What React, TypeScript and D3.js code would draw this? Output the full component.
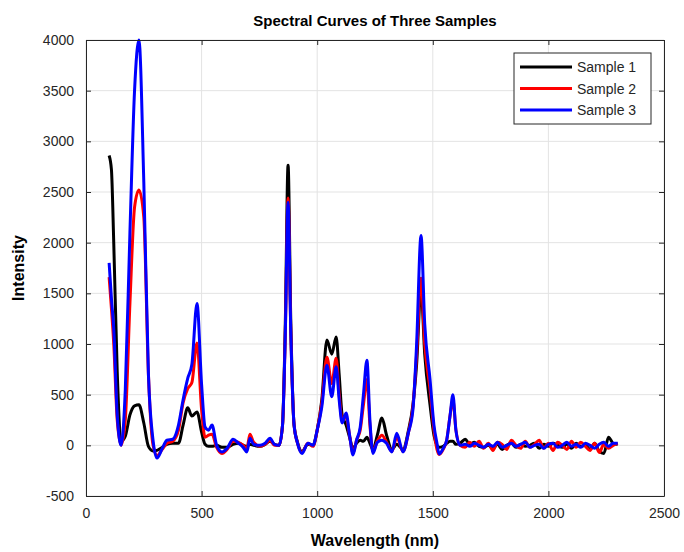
import React, { useEffect, useRef } from "react";
import * as d3 from "d3";

// wavelength grid (nm) shared by the three samples
const wavelength = [
  100, 110, 120, 135, 152, 170, 190, 210, 229, 250, 270, 290, 307, 330, 350, 375, 400, 420, 440, 458,
  480, 500, 515, 530, 545, 565, 588, 610, 636, 660, 680, 696, 709, 725, 753, 775, 796, 815, 835, 850,
  862, 874, 886, 900, 915, 934, 960, 982, 1000, 1020, 1042, 1063, 1082, 1095, 1108, 1125, 1140, 1155, 1170, 1186,
  1200, 1215, 1228, 1241, 1260, 1280, 1300, 1323, 1344, 1371, 1395, 1414, 1430, 1449, 1465, 1488, 1505, 1518, 1527, 1545,
  1560, 1575, 1587, 1600, 1618,
  1640, 1660, 1680, 1700, 1720, 1740, 1760, 1780, 1800, 1820, 1840, 1860, 1880, 1900, 1920, 1940, 1960,
  1980, 2000, 2020, 2040, 2060, 2080, 2100, 2120, 2140, 2160, 2180, 2200, 2220, 2240, 2260, 2280, 2300,
];

const sample1 = [
  2860, 2720, 2000, 730, 40, 90, 300, 390, 400, 220, -10, -55, -50, -20, 10, 20, 20, 200, 370, 290,
  330, 130, 10, -10, -10, 0, -20, -20, 10, 20, 0, -10, 10, 0, -10, 10, 40, 10, 0, 200,
  1200, 2765, 1200, 200, 30, -60, 10, 0, 150, 450, 1040, 900, 1070, 700, 300, 200, 80, -30, 20, 50,
  40, 80, 20, -40, 100, 270, 100, -40, 10, -40, 150, 400, 800, 1540, 900, 400, 100, 0, -20, -10,
  20, 40, 40, 10, 20,
  60, 10, 30, -10, -20, 0, -30, 10, -40, 0, 20, -20, 10, -10, 0, 20, -30,
  10, -10, 20, 0, -20, 10, -30, 20, -10, 0, -40, 20, -60, -80, 80, 20, 10,
];

const sample2 = [
  1660, 1350, 1000, 250, 0, 250, 1400, 2350, 2520, 2250, 700, 0, -100, -40, 20, 40, 150, 420, 560, 620,
  1010, 350, 80, 100, 110, -20, -80, -40, 40, 30, 0, -30, 110, 30, -10, 10, 50, 0, 0, 200,
  1100, 2440, 1100, 200, 20, -70, 20, -10, 150, 420, 870, 610, 860, 500, 250, 280, 100, -80, 50, 150,
  400, 650, 200, -60, 40, 100, 30, -60, 80, -60, 130, 380, 900, 1650, 1000, 550, 150, -40, -90, -40,
  50, 300, 450, 150, 0,
  -20, 30, -10, 40, -30, 20, -50, 30, 10, -40, 50, 0, -30, 40, -20, 10, 50,
  -30, 20, -50, 30, 0, -40, 40, -20, 30, -10, -50, 20, -70, 10, -30, 0, 20,
];

const sample3 = [
  1800, 1450, 1150, 300, 0, 550, 2100, 3500, 4000, 2600, 700, 50, -125, -30, 50, 60, 200, 450, 660, 800,
  1400, 600, 180, 150, 200, 0, -65, -30, 60, 20, -20, -65, 70, 10, 0, 20, 70, 10, 0, 200,
  1100, 2400, 1100, 200, 20, -80, 20, 0, 150, 380, 790, 480, 775, 450, 220, 320, 100, -95, 50, 180,
  500, 840, 250, -80, 30, 50, 20, -65, 120, -65, 130, 350, 1000, 2070, 1200, 650, 200, 20, -85, -30,
  50, 300, 500, 150, 0,
  10, -10, 20, 0, -20, 10, -10, 30, -20, 0, 20, -10, 10, 30, -20, 0, 10,
  -30, 10, 20, -20, 0, 30, -10, 10, -20, 20, 0, -30, 10, 30, -10, 20, 20,
];

const seriesNames = ["Sample 1", "Sample 2", "Sample 3"];
const seriesColors = ["#000000", "#ff0000", "#0000ff"];
const xTicks = [0, 500, 1000, 1500, 2000, 2500];
const yTicks = [-500, 0, 500, 1000, 1500, 2000, 2500, 3000, 3500, 4000];

const W = 684;
const H = 552;
const margin = { top: 40, right: 20, bottom: 56, left: 86 };
const axisColor = "#262626";
const font = "Liberation Sans, Arial, sans-serif";

const App = () => {
  const ref = useRef<SVGSVGElement>(null);

  useEffect(() => {
    const svg = d3.select(ref.current);
    svg.selectAll("*").remove();

    const x = d3.scaleLinear().domain([0, 2500]).range([margin.left, W - margin.right]);
    const y = d3.scaleLinear().domain([-500, 4000]).range([H - margin.bottom, margin.top]);
    const plain = (d: number) => String(d);

    svg.append("rect").attr("width", W).attr("height", H).attr("fill", "white");

    // grid
    const grid = svg.append("g").attr("stroke", "#e3e3e3").attr("stroke-width", 1);
    grid
      .selectAll("line.gx")
      .data(xTicks)
      .join("line")
      .attr("class", "gx")
      .attr("x1", (d) => x(d))
      .attr("x2", (d) => x(d))
      .attr("y1", y(-500))
      .attr("y2", y(4000));
    grid
      .selectAll("line.gy")
      .data(yTicks)
      .join("line")
      .attr("class", "gy")
      .attr("y1", (d) => y(d))
      .attr("y2", (d) => y(d))
      .attr("x1", x(0))
      .attr("x2", x(2500));

    // curves
    const series = [sample1, sample2, sample3];
    const line = d3
      .line<number>()
      .x((d, i) => x(wavelength[i]))
      .y((d) => y(d))
      .curve(d3.curveMonotoneX);

    series.forEach((s, k) => {
      svg
        .append("path")
        .attr("d", line(s))
        .attr("fill", "none")
        .attr("stroke", seriesColors[k])
        .attr("stroke-width", 3)
        .attr("stroke-linejoin", "round");
    });

    // axes box with inward ticks (bottom, left, top, right)
    const tickLen = 5;
    const bottom = svg
      .append("g")
      .attr("transform", `translate(0, ${y(-500)})`)
      .call(
        d3.axisBottom(x).tickValues(xTicks).tickFormat(plain).tickSizeInner(-tickLen).tickSizeOuter(0).tickPadding(12)
      );
    const left = svg
      .append("g")
      .attr("transform", `translate(${x(0)}, 0)`)
      .call(
        d3.axisLeft(y).tickValues(yTicks).tickFormat(plain).tickSizeInner(-tickLen).tickSizeOuter(0).tickPadding(12)
      );
    svg
      .append("g")
      .attr("transform", `translate(0, ${y(4000)})`)
      .call(d3.axisTop(x).tickValues(xTicks).tickSizeInner(-tickLen).tickSizeOuter(0).tickFormat(() => ""));
    svg
      .append("g")
      .attr("transform", `translate(${x(2500)}, 0)`)
      .call(d3.axisRight(y).tickValues(yTicks).tickSizeInner(-tickLen).tickSizeOuter(0).tickFormat(() => ""));

    svg.selectAll(".domain").attr("stroke", axisColor);
    svg.selectAll(".tick line").attr("stroke", axisColor);
    [bottom, left].forEach((g) =>
      g
        .selectAll("text")
        .attr("fill", axisColor)
        .attr("font-family", font)
        .attr("font-size", "14px")
    );

    // titles
    svg
      .append("text")
      .text("Spectral Curves of Three Samples")
      .attr("x", (x(0) + x(2500)) / 2)
      .attr("y", 26)
      .attr("text-anchor", "middle")
      .attr("font-family", font)
      .attr("font-weight", "bold")
      .attr("font-size", "15px")
      .attr("fill", "#000");

    svg
      .append("text")
      .text("Wavelength (nm)")
      .attr("x", (x(0) + x(2500)) / 2)
      .attr("y", 546)
      .attr("text-anchor", "middle")
      .attr("font-family", font)
      .attr("font-weight", "bold")
      .attr("font-size", "16px")
      .attr("fill", "#000");

    svg
      .append("text")
      .text("Intensity")
      .attr("transform", `translate(24, ${(y(-500) + y(4000)) / 2}) rotate(-90)`)
      .attr("text-anchor", "middle")
      .attr("font-family", font)
      .attr("font-weight", "bold")
      .attr("font-size", "16px")
      .attr("fill", "#000");

    // legend
    const lg = svg.append("g").attr("transform", "translate(514, 53)");
    lg.append("rect")
      .attr("width", 137)
      .attr("height", 71)
      .attr("fill", "white")
      .attr("stroke", axisColor)
      .attr("stroke-width", 1);
    seriesNames.forEach((name, k) => {
      const ly = 14 + k * 21.5;
      lg.append("line")
        .attr("x1", 6)
        .attr("x2", 58)
        .attr("y1", ly)
        .attr("y2", ly)
        .attr("stroke", seriesColors[k])
        .attr("stroke-width", 3);
      lg.append("text")
        .text(name)
        .attr("x", 63)
        .attr("y", ly + 5)
        .attr("font-family", font)
        .attr("font-size", "14px")
        .attr("fill", axisColor);
    });
  }, []);

  return (
    <svg
      ref={ref}
      width={W}
      height={H}
      style={{ position: "absolute", left: 0, top: 0, display: "block" }}
    ></svg>
  );
};

export default App;
